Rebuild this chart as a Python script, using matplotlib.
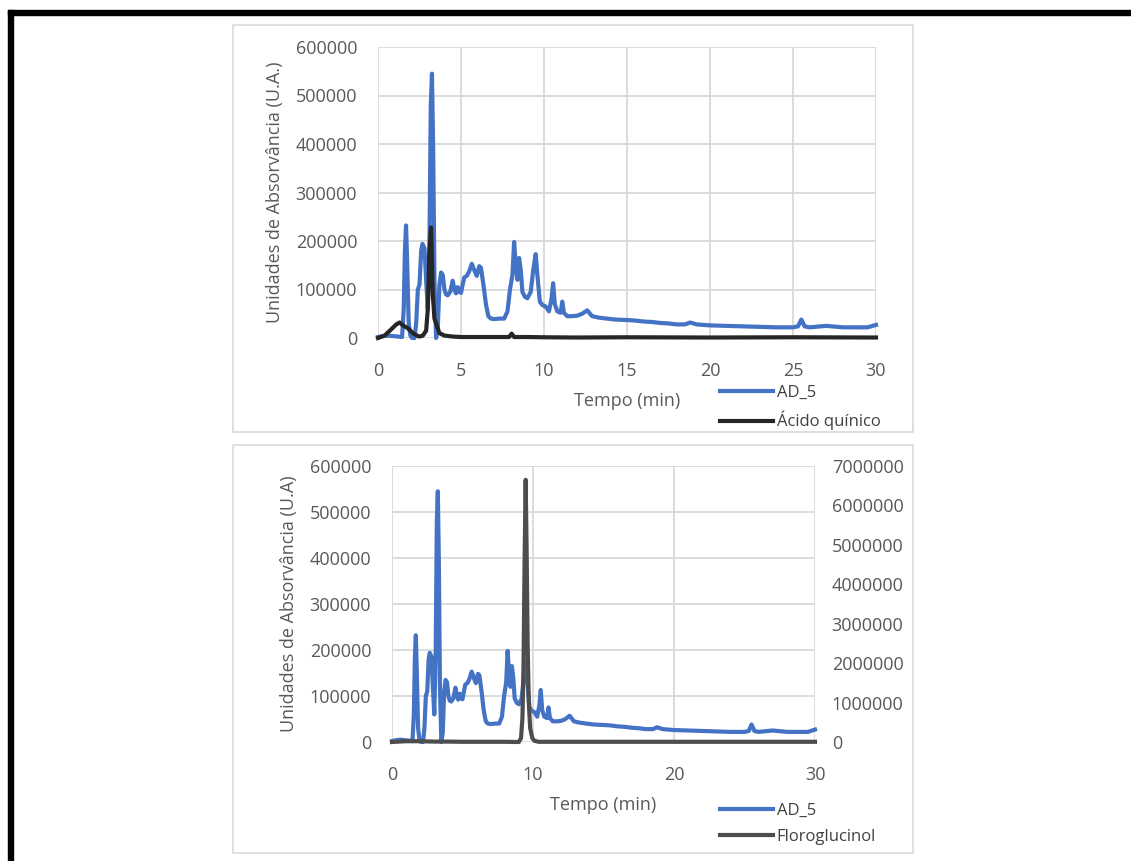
import matplotlib.pyplot as plt
from matplotlib.lines import Line2D
from matplotlib.patches import Rectangle

# AD_5 chromatogram
t_ad5 = [0, 0.3, 0.6, 0.9, 1.2, 1.45, 1.55, 1.62, 1.69, 1.76, 1.85, 1.95, 2.05, 2.2, 2.3,
         2.4, 2.5, 2.6, 2.68, 2.8, 2.9, 3.0, 3.1, 3.18, 3.25, 3.32, 3.4, 3.5, 3.6, 3.7,
         3.8, 3.9, 4.0, 4.1, 4.2, 4.35, 4.5, 4.6, 4.7, 4.8, 4.9, 5.0, 5.1, 5.2, 5.35,
         5.5, 5.65, 5.8, 5.95, 6.1, 6.2, 6.35, 6.5, 6.65, 6.8, 7.0, 7.3, 7.6, 7.8, 7.95,
         8.1, 8.2, 8.3, 8.4, 8.5, 8.6, 8.7, 8.85, 9.0, 9.2, 9.35, 9.5, 9.6, 9.75, 9.9,
         10.1, 10.3, 10.45, 10.55, 10.65, 10.8, 11.0, 11.1, 11.2, 11.4, 11.7, 12.0, 12.3,
         12.6, 12.9, 13.3, 13.8, 14.3, 15.0, 15.5, 16.0, 16.5, 17.0, 17.5, 18.0, 18.5,
         18.8, 19.2, 20.0, 21.0, 22.0, 23.0, 24.0, 25.0, 25.3, 25.5, 25.7, 26.0, 27.0,
         28.0, 29.0, 29.5, 30.0]
v_ad5 = [2000, 4000, 5000, 4000, 3000, 2000, 60000, 180000, 232000, 150000, 30000, 5000,
         0, 0, 30000, 100000, 110000, 180000, 194000, 185000, 120000, 60000, 200000,
         480000, 545000, 400000, 120000, 0, 20000, 110000, 135000, 130000, 100000, 90000,
         88000, 95000, 118000, 100000, 92000, 105000, 95000, 93000, 110000, 125000,
         128000, 138000, 153000, 140000, 128000, 148000, 145000, 110000, 70000, 45000,
         40000, 39000, 40000, 40000, 55000, 100000, 130000, 198000, 150000, 120000,
         165000, 140000, 95000, 85000, 82000, 95000, 140000, 173000, 130000, 75000,
         68000, 65000, 55000, 80000, 113000, 70000, 55000, 52000, 75000, 52000, 45000,
         45000, 46000, 50000, 57000, 45000, 42000, 40000, 38000, 37000, 36000, 34000,
         33000, 31000, 30000, 28000, 28000, 32000, 28000, 26000, 25000, 24000, 23000,
         22000, 22000, 24000, 38000, 24000, 22000, 25000, 22000, 22000, 22000, 27000]

# Ácido quínico standard
t_quin = [0, 0.4, 0.8, 1.1, 1.3, 1.5, 1.8, 2.1, 2.35, 2.5, 2.7, 2.9, 3.0, 3.1, 3.2, 3.3,
          3.4, 3.55, 3.7, 4.0, 4.5, 5.0, 6.0, 7.0, 7.9, 8.05, 8.2, 9.0, 10.0, 12.0, 15.0,
          20.0, 25.0, 30.0]
v_quin = [0, 5000, 18000, 28000, 32000, 26000, 20000, 10000, 5000, 3000, 5000, 15000,
          60000, 180000, 228000, 90000, 40000, 25000, 10000, 5000, 3000, 2000, 2000, 2000,
          2000, 9000, 2000, 2000, 1500, 1000, 1500, 1000, 1500, 1000]

# Floroglucinol standard (right axis)
t_flor = [0, 1, 2, 3, 4, 5, 6, 7, 8, 9.0, 9.15, 9.25, 9.33, 9.4, 9.48, 9.55, 9.62, 9.7,
          9.8, 9.95, 10.1, 10.4, 11, 15, 20, 25, 30]
v_flor = [0, 20000, 20000, 10000, 10000, 5000, 5000, 5000, 5000, 0, 100000, 600000,
          2000000, 4500000, 6650000, 4800000, 2500000, 1000000, 350000, 100000, 30000,
          5000, 5000, 5000, 5000, 5000, 5000]

W, H = 1131, 861
BLUE = '#4472C4'
GRID = '#D9D9D9'
TXT = '#595959'
FS = 13

plt.rcParams['font.family'] = ['Open Sans', 'DejaVu Sans']

fig = plt.figure(figsize=(W / 100, H / 100), dpi=100)


def box(x0, y0, x1, y1):
    return [x0 / W, 1 - y1 / H, (x1 - x0) / W, (y1 - y0) / H]


# outer black frame (top and left only) and the two grey chart boxes
fig.patches.append(Rectangle((8 / W, 0), 5 / W, 1 - 10 / H, transform=fig.transFigure,
                             color='black', zorder=0))
fig.patches.append(Rectangle((8 / W, 1 - 15 / H), 1 - 8 / W, 5 / H,
                             transform=fig.transFigure, color='black', zorder=0))
for y0, y1 in [(25, 432), (445, 853)]:
    b = box(233, y0, 913, y1)
    fig.patches.append(Rectangle((b[0], b[1]), b[2], b[3], transform=fig.transFigure,
                                 fill=False, edgecolor=GRID, lw=1.2, zorder=0))


def style(ax, xt):
    ax.set_xlim(0, 30)
    ax.set_ylim(0, 600000)
    ax.set_xticks(xt)
    ax.set_yticks(range(0, 600001, 100000))
    ax.yaxis.set_major_formatter(plt.FuncFormatter(lambda v, p: f'{int(v)}'))
    ax.grid(True, color=GRID, lw=1.3)
    ax.set_axisbelow(True)
    for s in ax.spines.values():
        s.set_visible(False)
    ax.tick_params(length=0, labelsize=FS, labelcolor=TXT)
    ax.tick_params(axis='x', pad=17)
    ax.tick_params(axis='y', pad=15)
    ax.set_xlabel('Tempo (min)', fontsize=FS, color=TXT, labelpad=9)


def legend(labels, colors, y):
    fig.legend(handles=[Line2D([], [], color=c, lw=3) for c in colors],
               labels=labels, loc='upper left',
               bbox_to_anchor=(720 / W, 1 - y / H), frameon=False, fontsize=FS - 1,
               labelcolor='#404040', handlelength=3.2, handletextpad=0.2, borderpad=0,
               borderaxespad=0, labelspacing=0.6)


# top chart
ax1 = fig.add_axes(box(378, 47, 876, 338))
style(ax1, range(0, 31, 5))
ax1.plot(t_ad5, v_ad5, color=BLUE, lw=3, clip_on=False, solid_joinstyle='round')
ax1.plot(t_quin, v_quin, color='#262626', lw=3, clip_on=False, solid_joinstyle='round')
ax1.set_ylabel('Unidades de Absorvância (U.A.)', fontsize=FS, color=TXT, labelpad=8)
legend(['AD_5', 'Ácido quínico'], [BLUE, '#262626'], 385)

# bottom chart
ax2 = fig.add_axes(box(392, 466, 815, 742))
style(ax2, range(0, 31, 10))
ax2.plot(t_ad5, v_ad5, color=BLUE, lw=3, clip_on=False, solid_joinstyle='round')
ax2.set_ylabel('Unidades de Absorvância (U.A)', fontsize=FS, color=TXT, labelpad=8)
ax3 = ax2.twinx()
ax3.set_ylim(0, 7000000)
ax3.set_yticks(range(0, 7000001, 1000000))
ax3.yaxis.set_major_formatter(plt.FuncFormatter(lambda v, p: f'{int(v)}'))
for s in ax3.spines.values():
    s.set_visible(False)
ax3.tick_params(length=0, labelsize=FS, labelcolor=TXT, pad=12)
ax3.plot(t_flor, v_flor, color='#4D4D4D', lw=3, clip_on=False, solid_joinstyle='round')
legend(['AD_5', 'Floroglucinol'], [BLUE, '#4D4D4D'], 803)

fig.savefig('out.png', dpi=100)
